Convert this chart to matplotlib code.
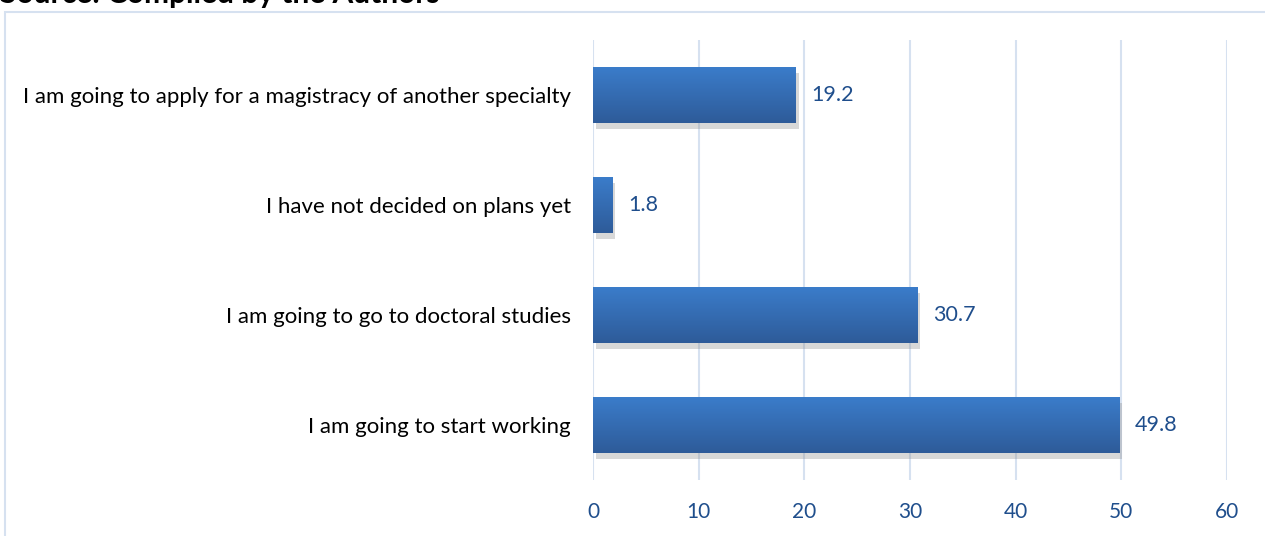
import numpy as np
import matplotlib.pyplot as plt
from matplotlib.patches import Rectangle
import matplotlib.patheffects as pe
from matplotlib.colors import LinearSegmentedColormap

plt.rcParams['font.family'] = ['Lato', 'DejaVu Sans']

categories = [
    "I am going to start working",
    "I am going to go to doctoral studies",
    "I have not decided on plans yet",
    "I am going to apply for a magistracy of another specialty",
]
values = [49.8, 30.7, 1.8, 19.2]
xticks = [0, 10, 20, 30, 40, 50, 60]

text_blue = "#1f4e8c"
grid_col = "#d6e1f0"

fig = plt.figure(figsize=(12.65, 5.36), dpi=100)

# outer chart frame, cut by the crop on the right and bottom
fig.patches.append(Rectangle((5 / 1265, -0.05), 1.2, 1 - 12 / 536 + 0.05,
                             transform=fig.transFigure, fill=False,
                             edgecolor=grid_col, lw=1.5))
# caption sits above the frame and is cut by the crop, as in the source
fig.text(0.0, 1 - 3 / 536, "Source: Compiled by the Authors",
         fontsize=21.5, fontweight="bold", va="baseline", ha="left")

ax = fig.add_axes([593 / 1265, 1 - 480 / 536, (1227 - 593) / 1265, 440 / 536])

y = np.arange(len(categories))
bars = ax.barh(y, values, height=0.51, color="#3b74bb", zorder=3,
               path_effects=[pe.SimplePatchShadow(offset=(2, -4), shadow_rgbFace="#909090", alpha=0.35),
                             pe.Normal()])

cmap = LinearSegmentedColormap.from_list("bar", ["#2e5b99", "#3b7dcb"])
grad = np.linspace(0, 1, 256).reshape(-1, 1)
for b in bars:
    x0, y0, w, h = b.get_x(), b.get_y(), b.get_width(), b.get_height()
    im = ax.imshow(grad, cmap=cmap, aspect="auto", origin="lower",
                   extent=(x0, x0 + w, y0, y0 + h), zorder=4)
    im.set_clip_path(b)

for yi, v in zip(y, values):
    ax.text(v + 1.5, yi, f"{v}", va="center", ha="left", fontsize=15.5, color=text_blue)

ax.set_xlim(0, 60)
ax.set_ylim(-0.5, len(categories) - 0.5)
ax.set_xticks(xticks)
ax.set_xticklabels([str(t) for t in xticks], fontsize=15, color=text_blue)
ax.set_yticks(y)
ax.set_yticklabels(categories, fontsize=16, color="black")
ax.tick_params(axis="both", length=0)
ax.tick_params(axis="x", pad=16)
ax.tick_params(axis="y", pad=16)
ax.grid(axis="x", color=grid_col, lw=1.5, zorder=0)
ax.set_axisbelow(True)
for s in ax.spines.values():
    s.set_visible(False)

fig.savefig("out.png", dpi=100)
